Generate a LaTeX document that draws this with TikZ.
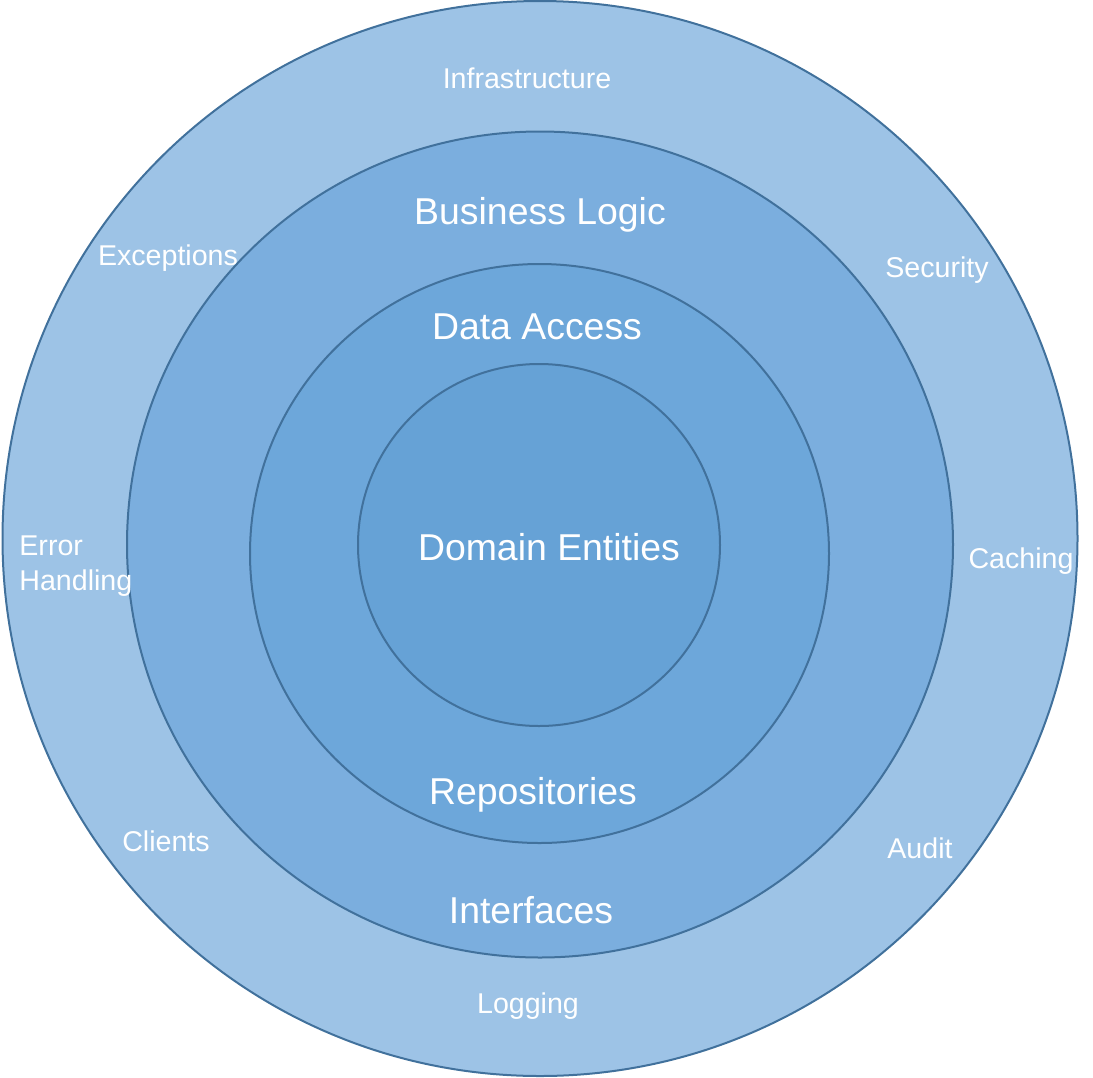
\documentclass[tikz,border=0pt]{standalone}
\usepackage{fontspec}
\setmainfont{Liberation Sans}
\usepackage{tikz}
\usetikzlibrary{positioning}

\definecolor{ringline}{HTML}{41719C}
\definecolor{ringouter}{HTML}{9DC3E6}
\definecolor{ringlogic}{HTML}{7BAEDE}
\definecolor{ringdata}{HTML}{6DA7DA}
\definecolor{ringcore}{HTML}{66A2D6}

\tikzset{
    ring/.style={circle, draw=ringline, line width=1pt, inner sep=0pt},
    smalllabel/.style={text=white, inner sep=0pt, font=\fontsize{14.3}{17.5}\selectfont},
    biglabel/.style={text=white, inner sep=0pt, font=\fontsize{18.7}{22}\selectfont}
}

\begin{document}
\begin{tikzpicture}[x=0.5pt, y=-0.5pt]
    \useasboundingbox (0,0) rectangle (1093,1077);

    % rings, outside in
    \node[ring, fill=ringouter, minimum size=537.5pt] (infra) at (540,538.5) {};
    \node[ring, fill=ringlogic, minimum size=413pt] (logic) at (540,544.5) {};
    \node[ring, fill=ringdata, minimum size=289.5pt] (data) at (539.5,553.5) {};
    \node[ring, fill=ringcore, minimum size=181pt] (core) at (539,545) {};

    % layer names
    \foreach \name/\x/\y/\txt in {
        lbusiness/540/215/Business Logic,
        laccess/537/327/Data Access,
        lentities/549/547/Domain Entities,
        lrepos/533/795/Repositories,
        linterfaces/531/910/Interfaces}{
        \node[biglabel] (\name) at (\x,\y) {\txt};
    }

    % cross-cutting concerns
    \foreach \name/\x/\y/\txt in {
        linfra/527/78/Infrastructure,
        lexceptions/168/258/Exceptions,
        lsecurity/937/270/Security,
        lcaching/1021/561/Caching,
        lclients/166/841/Clients,
        laudit/920/848/Audit,
        llogging/528/1006/Logging}{
        \node[smalllabel] (\name) at (\x,\y) {\txt};
    }
    \node[smalllabel, anchor=west, align=left] (lerror) at (19,566) {Error\\Handling};
\end{tikzpicture}
\end{document}
